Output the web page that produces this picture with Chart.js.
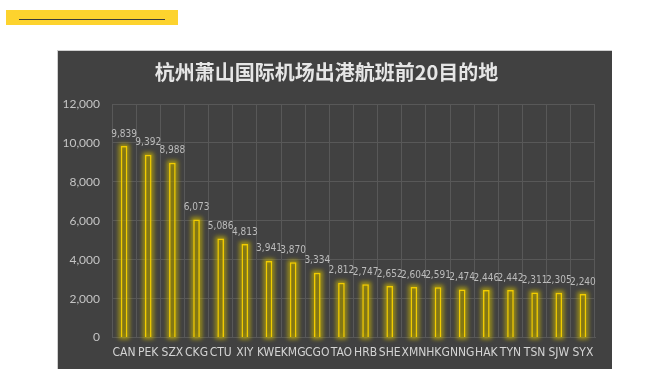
<!DOCTYPE html>
<html>
<head>
<meta charset="utf-8">
<script src="https://cdn.jsdelivr.net/npm/chart.js@4"></script>
<style>
  html, body { margin: 0; padding: 0; background: #fff; }
  body { width: 659px; height: 376px; position: relative; overflow: hidden; }
  .banner { position: absolute; left: 6px; top: 10px; width: 172px; height: 15px; background: #fdd32e; }
  .banner-line { position: absolute; left: 19px; top: 19px; width: 146px; height: 1px; background: #3a3a3a; }
  .panel { position: absolute; left: 57px; top: 50px; width: 554px; height: 318px; background: #414141; border-top: 1px solid #cfcfcf; border-left: 1px solid #cfcfcf; }
  canvas { display: block; }
</style>
</head>
<body>
<div class="banner"></div>
<div class="banner-line"></div>
<div class="panel"><canvas id="chart" width="553" height="317"></canvas></div>
<script>
const airports = ['CAN', 'PEK', 'SZX', 'CKG', 'CTU', 'XIY', 'KWE', 'KMG', 'CGO', 'TAO',
  'HRB', 'SHE', 'XMN', 'HKG', 'NNG', 'HAK', 'TYN', 'TSN', 'SJW', 'SYX'];
const flights = [9839, 9392, 8988, 6073, 5086, 4813, 3941, 3870, 3334, 2812,
  2747, 2652, 2604, 2591, 2474, 2446, 2442, 2311, 2305, 2240];
const yTicks = [0, 2000, 4000, 6000, 8000, 10000, 12000];
const chartTitle = '杭州萧山国际机场出港航班前20目的地';

const narrow = '"Liberation Sans Narrow", "DejaVu Sans Condensed", sans-serif';

// bar element clips to its own rect, so the halo is painted underneath first
const glowPlugin = {
  id: 'glow',
  beforeDatasetsDraw(chart) {
    const ctx = chart.ctx;
    const meta = chart.getDatasetMeta(0);
    ctx.save();
    ctx.filter = 'blur(2px)';
    ctx.strokeStyle = 'rgba(205, 185, 0, 0.75)';
    ctx.lineWidth = 4;
    meta.data.forEach(bar => {
      const { x, y, base, width } = bar.getProps(['x', 'y', 'base', 'width'], true);
      ctx.strokeRect(x - width / 2, y, width, base - y);
    });
    ctx.restore();
  }
};

const valueLabels = {
  id: 'valueLabels',
  afterDatasetsDraw(chart) {
    const ctx = chart.ctx;
    const meta = chart.getDatasetMeta(0);
    ctx.save();
    ctx.font = '10px ' + narrow;
    ctx.fillStyle = '#bcbcbc';
    ctx.textAlign = 'center';
    ctx.textBaseline = 'bottom';
    meta.data.forEach((bar, i) => {
      ctx.fillText(flights[i].toLocaleString('en-US'), bar.x, bar.y - 7);
    });
    ctx.restore();
  }
};

new Chart(document.getElementById('chart'), {
  type: 'bar',
  data: {
    labels: airports,
    datasets: [{
      data: flights,
      backgroundColor: 'rgba(140, 125, 0, 0.45)',
      borderColor: '#f2cc00',
      borderWidth: 1.5,
      barPercentage: 0.55,
      categoryPercentage: 0.5
    }]
  },
  options: {
    responsive: false,
    animation: false,
    layout: { padding: { left: 0, right: 16, top: 0, bottom: 0 } },
    plugins: {
      legend: { display: false },
      tooltip: { enabled: false },
      title: {
        display: true,
        text: chartTitle,
        color: '#e6e6e6',
        font: { family: '"Noto Sans CJK SC", sans-serif', size: 20, weight: 'bold' },
        padding: { top: 9, bottom: 20 }
      }
    },
    scales: {
      x: {
        grid: { color: '#585858', offset: true, drawTicks: false },
        border: { color: '#585858' },
        ticks: { color: '#d4d4d4', font: { family: narrow, size: 12 }, padding: 8, maxRotation: 0, autoSkip: false }
      },
      y: {
        min: 0,
        max: 12000,
        afterBuildTicks(scale) { scale.ticks = yTicks.map(v => ({ value: v })); },
        afterFit(scale) { scale.width = 54; },
        grid: { color: '#585858', drawTicks: false },
        border: { display: false },
        ticks: {
          color: '#c4c4c4',
          font: { family: 'Lato, sans-serif', size: 12 },
          padding: 12,
          callback: v => v.toLocaleString('en-US')
        }
      }
    }
  },
  plugins: [glowPlugin, valueLabels]
});
</script>
</body>
</html>
